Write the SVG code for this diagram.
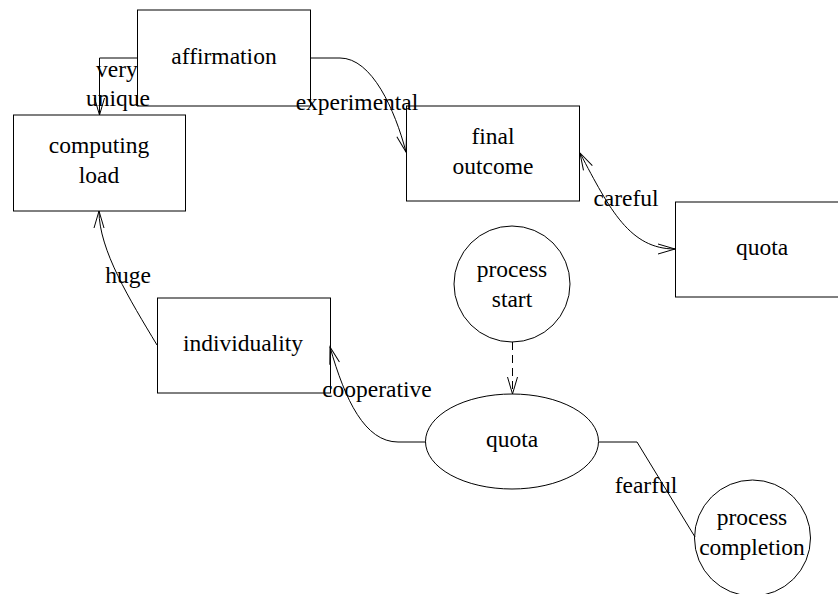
<svg xmlns="http://www.w3.org/2000/svg" width="838" height="594" viewBox="0 0 838 594">
<style>
  .node { fill: #ffffff; stroke: #000000; stroke-width: 1; }
  .lbl { font-family: "Liberation Serif", "Times New Roman", serif; font-size: 23.5px; fill: #000000; text-anchor: middle; }
  .edge { fill: none; stroke: #000000; stroke-width: 1; }
  .dash { stroke-dasharray: 8 5; }
</style>
<defs>
  <marker id="arr" markerUnits="userSpaceOnUse" viewBox="0 0 20 12" markerWidth="20" markerHeight="12" refX="18" refY="6" orient="auto-start-reverse">
    <path d="M1,1 L18,6 L1,11" fill="none" stroke="#000000" stroke-width="1"/>
  </marker>
</defs>
<rect width="838" height="594" fill="#ffffff"/>

<g id="affirmation">
  <rect class="node" x="137.5" y="10" width="173" height="96"/>
  <text class="lbl" x="224" y="64">affirmation</text>
</g>
<g id="computing_load">
  <rect class="node" x="13.5" y="115" width="172" height="96"/>
  <text class="lbl" x="99" y="153">computing</text>
  <text class="lbl" x="99" y="183">load</text>
</g>
<g id="final_outcome">
  <rect class="node" x="406.5" y="106" width="173" height="95"/>
  <text class="lbl" x="493" y="144">final</text>
  <text class="lbl" x="493" y="174">outcome</text>
</g>
<g id="quota_rect">
  <rect class="node" x="675.5" y="202" width="174" height="95"/>
  <text class="lbl" x="762" y="255">quota</text>
</g>
<g id="individuality">
  <rect class="node" x="157.5" y="298" width="173" height="95"/>
  <text class="lbl" x="243" y="351">individuality</text>
</g>
<g id="process_start">
  <circle class="node" cx="512" cy="284" r="58"/>
  <text class="lbl" x="512" y="277">process</text>
  <text class="lbl" x="512" y="307">start</text>
</g>
<g id="quota_ellipse">
  <ellipse class="node" cx="512" cy="441.5" rx="86.5" ry="47.5"/>
  <text class="lbl" x="512" y="447">quota</text>
</g>
<g id="process_completion">
  <circle class="node" cx="752.5" cy="538" r="58"/>
  <text class="lbl" x="752" y="525">process</text>
  <text class="lbl" x="752" y="555">completion</text>
</g>

<g id="connectors">
  <path class="edge" d="M137,58 H99.5 V115" marker-end="url(#arr)"/>
  <text class="lbl" x="117" y="77">very</text>
  <text class="lbl" x="118" y="106">unique</text>

  <path class="edge" d="M311,58 H340 C372,58 395,110 406,152" marker-end="url(#arr)"/>
  <text class="lbl" x="357" y="110">experimental</text>

  <path class="edge" d="M580,153 C610,210 630,249 675,249" marker-start="url(#arr)" marker-end="url(#arr)"/>
  <text class="lbl" x="626" y="206">careful</text>

  <path class="edge" d="M157,345 C130,300 99,250 99,211" marker-end="url(#arr)"/>
  <text class="lbl" x="128" y="283">huge</text>

  <path class="edge" d="M426,442 H398 C365,442 345,400 330,347" marker-end="url(#arr)"/>
  <text class="lbl" x="377" y="397">cooperative</text>

  <path class="edge" d="M599,442 H637 L695,537"/>
  <text class="lbl" x="646" y="493">fearful</text>

  <path class="edge dash" d="M512.5,342 V394" marker-end="url(#arr)"/>
</g>
</svg>
